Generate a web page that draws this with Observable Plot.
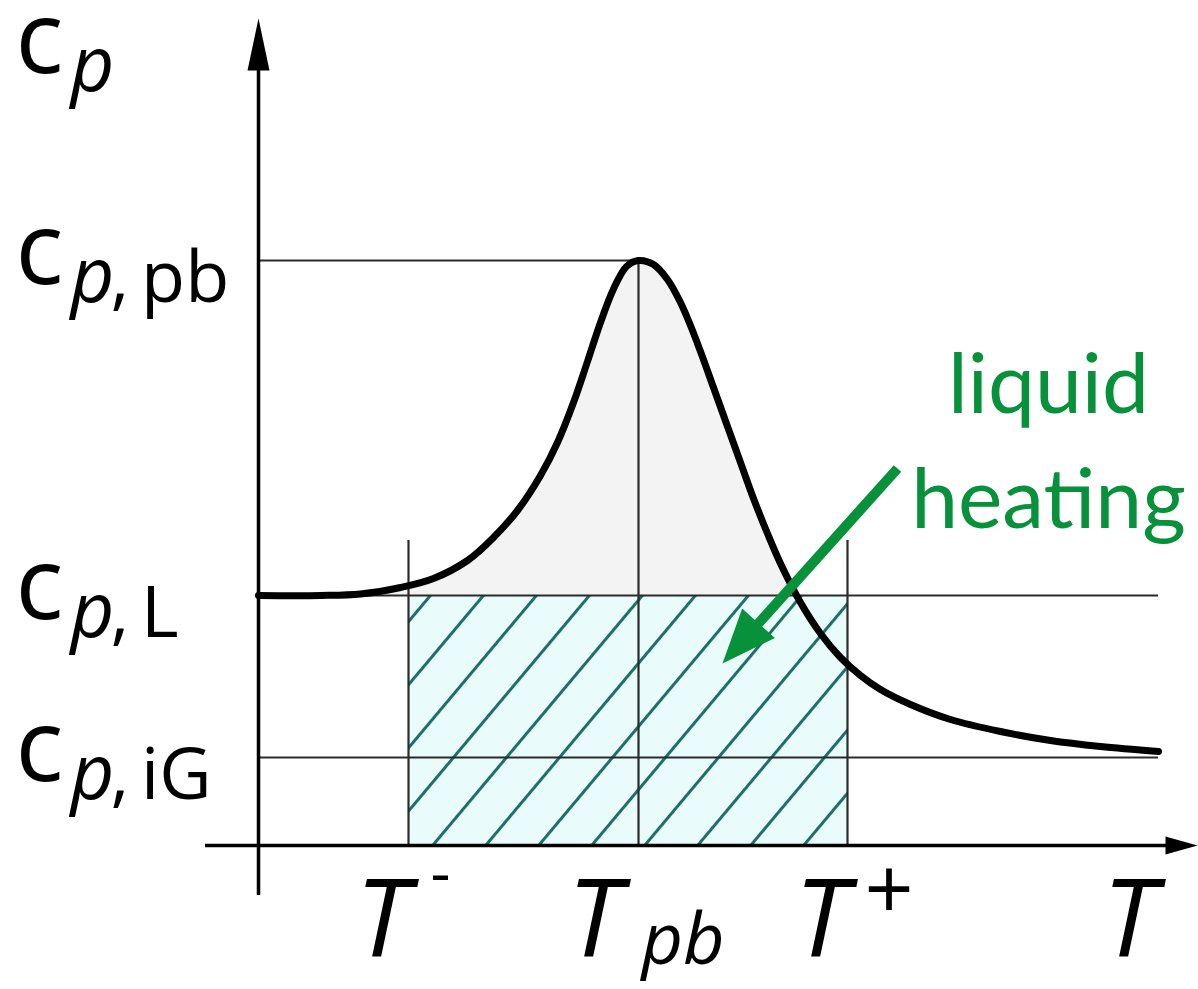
<!DOCTYPE html>
<html>
<head>
<meta charset="utf-8">
<script src="https://cdn.jsdelivr.net/npm/d3@7"></script>
<script src="https://cdn.jsdelivr.net/npm/@observablehq/plot@0.6"></script>
<style>
  html, body { margin: 0; padding: 0; background: #fff; }
  svg { display: block; }
</style>
</head>
<body>
<div id="chart"></div>
<script>
// Characteristic temperatures (arbitrary units along T)
const tMinus = 1.50, tPb = 3.80, tPlus = 5.89, tEnd = 9.00;
// Characteristic heat capacities (arbitrary units along c_p)
const cpPb = 5.85, cpL = 2.50, cpIG = 0.88;
// Height of the T- / T+ guide lines
const guideTop = 3.05;

// c_p(T) curve with the pseudo-boiling peak
const curveT  = [0, 0.62, 1.02, 1.42, 1.75, 2.09, 2.35, 2.59, 2.82, 2.99, 3.15, 3.29, 3.42, 3.55, 3.68, 3.80,
                 3.95, 4.09, 4.22, 4.32, 4.42, 4.55, 4.69, 4.82, 4.95, 5.09, 5.22, 5.42, 5.62, 5.82, 6.02, 6.22,
                 6.52, 6.92, 7.42, 7.92, 8.42, 9.00];
const curveCp = [2.50, 2.50, 2.515, 2.58, 2.67, 2.85, 3.08, 3.35, 3.70, 4.03, 4.43, 4.84, 5.23, 5.565, 5.79, 5.85,
                 5.81, 5.66, 5.43, 5.20, 4.94, 4.58, 4.19, 3.83, 3.47, 3.12, 2.82, 2.43, 2.12, 1.88, 1.70, 1.56,
                 1.41, 1.26, 1.14, 1.05, 0.99, 0.94];

// Tick labels
const yTickValues = [cpPb, cpL, cpIG];
const yTickSubs   = [",\u2009pb", ",\u2009L", ",\u2009iG"];

// Annotation
const noteText = "liquid\nheating";

const curve = curveT.map((t, i) => ({t, cp: curveCp[i]}));

// Frame
const W = 1198, H = 989;
const xDomain = [-2.58, 9.40];
const yDomain = [-1.44, 8.45];
const kx = W / (xDomain[1] - xDomain[0]);
const ky = H / (yDomain[1] - yDomain[0]);

const ink = "#000";
const guide = "#2b2b2b";
const green = "#07913a";
const sans = "'Open Sans', 'DejaVu Sans', sans-serif";

// Filled arrow head with its tip at the origin, pointing up before rotation
function head(len, half) {
  return {draw(ctx) { ctx.moveTo(0, 0); ctx.lineTo(half, len); ctx.lineTo(-half, len); ctx.closePath(); }};
}
function angleOf(a, b) {
  return Math.atan2((b.x - a.x) * kx, (b.y - a.y) * ky) * 180 / Math.PI;
}

// Green pointer towards the hatched area
const pointerFrom = {x: 6.39, y: 3.77};
const pointerTip  = {x: 4.64, y: 1.82};
const pointerHead = 54;
const pDx = (pointerTip.x - pointerFrom.x) * kx, pDy = (pointerTip.y - pointerFrom.y) * ky;
const pLen = Math.hypot(pDx, pDy);
const pointerBase = {
  x: pointerTip.x - (pDx / pLen) * (pointerHead - 8) / kx,
  y: pointerTip.y - (pDy / pLen) * (pointerHead - 8) / ky
};

// Axis extents
const yAxis = {x: 0, y1: -0.50, y2: 8.00, tip: 8.27};
const xAxis = {y: 0, x1: -0.53, x2: 9.20, tip: 9.39};

// Label placement
const labelX = -2.43;
const cpLabelY = 7.73;
const tickLabelDrop = 23;
const tLabelY = -1.10;
const tAxisLabelX = 8.71;

const cRows = [{x: labelX, y: cpLabelY, sub: ""}]
  .concat(yTickValues.map((v, i) => ({x: labelX, y: v - tickLabelDrop / ky, sub: yTickSubs[i]})));

const italicT = {fontSize: 108, fontStyle: "italic", textAnchor: "middle", lineAnchor: "bottom", fill: ink};

const svg = Plot.plot({
  width: W,
  height: H,
  marginTop: 0, marginRight: 0, marginBottom: 0, marginLeft: 0,
  x: {domain: xDomain, axis: null},
  y: {domain: yDomain, axis: null},
  style: {background: "#fff", fontFamily: sans},
  marks: [
    // light shading between the peak and the liquid level
    Plot.areaY(curve, {x: "t", y1: () => cpL, y2: d => Math.max(d.cp, cpL), fill: "#f3f3f3", curve: "catmull-rom"}),
    // hatched liquid-heating block
    Plot.rect([{x1: tMinus, x2: tPlus, y1: 0, y2: cpL}], {x1: "x1", x2: "x2", y1: "y1", y2: "y2", fill: "url(#hatch)"}),
    // guide lines
    Plot.ruleY([{v: cpPb, end: tPb}, {v: cpL, end: tEnd}, {v: cpIG, end: tEnd}],
      {y: "v", x1: () => 0, x2: "end", stroke: guide, strokeWidth: 2.2}),
    Plot.ruleX([{t: tMinus, top: guideTop}, {t: tPb, top: cpPb}, {t: tPlus, top: guideTop}],
      {x: "t", y1: () => 0, y2: "top", stroke: guide, strokeWidth: 2.2}),
    // axes
    Plot.ruleX([yAxis], {x: "x", y1: "y1", y2: "y2", stroke: ink, strokeWidth: 3.5}),
    Plot.ruleY([xAxis], {y: "y", x1: "x1", x2: "x2", stroke: ink, strokeWidth: 3.5}),
    Plot.dot([{x: yAxis.x, y: yAxis.tip}], {x: "x", y: "y", rotate: () => 0, symbol: head(52, 11), fill: ink, stroke: "none"}),
    Plot.dot([{x: xAxis.tip, y: xAxis.y}], {x: "x", y: "y", rotate: () => 90, symbol: head(32, 9), fill: ink, stroke: "none"}),
    // c_p(T)
    Plot.line(curve, {x: "t", y: "cp", stroke: ink, strokeWidth: 7, curve: "catmull-rom"}),
    // pointer
    Plot.link([{a: pointerFrom, b: pointerBase}], {x1: d => d.a.x, y1: d => d.a.y, x2: d => d.b.x, y2: d => d.b.y, stroke: green, strokeWidth: 10}),
    Plot.dot([pointerTip], {x: "x", y: "y", rotate: () => angleOf(pointerFrom, pointerTip), symbol: head(pointerHead, 22), fill: green, stroke: "none"}),
    Plot.text([{x: 7.90, y: 3.18}], {x: "x", y: "y", text: () => noteText, fill: green, fontFamily: "Lato, 'Open Sans', sans-serif",
      fontSize: 84, lineHeight: 1.36, textAnchor: "middle", lineAnchor: "bottom"}),
    // c_p labels
    Plot.text(cRows, {x: "x", y: "y", text: () => "c", fontSize: 100, textAnchor: "start", lineAnchor: "bottom", fill: ink}),
    Plot.text(cRows, {x: "x", y: "y", text: () => "p", fontSize: 76, fontStyle: "italic", textAnchor: "start", lineAnchor: "bottom", dx: 55, dy: 18, fill: ink}),
    Plot.text(cRows, {x: "x", y: "y", text: "sub", fontSize: 72, textAnchor: "start", lineAnchor: "bottom", dx: 95, dy: 18, fill: ink}),
    // T labels
    Plot.text([tMinus, tPlus], {x: d => d, y: () => tLabelY, text: () => "T", dx: -26, ...italicT}),
    Plot.text([tMinus], {x: d => d, y: () => tLabelY, text: () => "-", fontSize: 62, textAnchor: "start", lineAnchor: "bottom", dx: 22, dy: -61, fill: ink}),
    Plot.text([tPlus], {x: d => d, y: () => tLabelY, text: () => "+", fontSize: 86, textAnchor: "start", lineAnchor: "bottom", dx: 17, dy: -36, fill: ink}),
    Plot.text([tPb], {x: d => d, y: () => tLabelY, text: () => "T", dx: -44, ...italicT}),
    Plot.text([tPb], {x: d => d, y: () => tLabelY, text: () => "pb", fontSize: 72, fontStyle: "italic", textAnchor: "start", lineAnchor: "bottom", dx: 3, dy: 8, fill: ink}),
    Plot.text([tAxisLabelX], {x: d => d, y: () => tLabelY, text: () => "T", ...italicT})
  ]
});

// Diagonal hatch used by the liquid-heating block
const ns = "http://www.w3.org/2000/svg";
const defs = document.createElementNS(ns, "defs");
const pattern = document.createElementNS(ns, "pattern");
const period = 40.6;
pattern.setAttribute("id", "hatch");
pattern.setAttribute("patternUnits", "userSpaceOnUse");
pattern.setAttribute("width", period);
pattern.setAttribute("height", period);
pattern.setAttribute("patternTransform", "rotate(40)");
const bg = document.createElementNS(ns, "rect");
bg.setAttribute("width", period);
bg.setAttribute("height", period);
bg.setAttribute("fill", "#e9fbfb");
const stripe = document.createElementNS(ns, "rect");
stripe.setAttribute("x", 20.8);
stripe.setAttribute("width", 3);
stripe.setAttribute("height", period);
stripe.setAttribute("fill", "#1d6f67");
pattern.appendChild(bg);
pattern.appendChild(stripe);
defs.appendChild(pattern);
svg.insertBefore(defs, svg.firstChild);

document.getElementById("chart").appendChild(svg);
</script>
</body>
</html>
